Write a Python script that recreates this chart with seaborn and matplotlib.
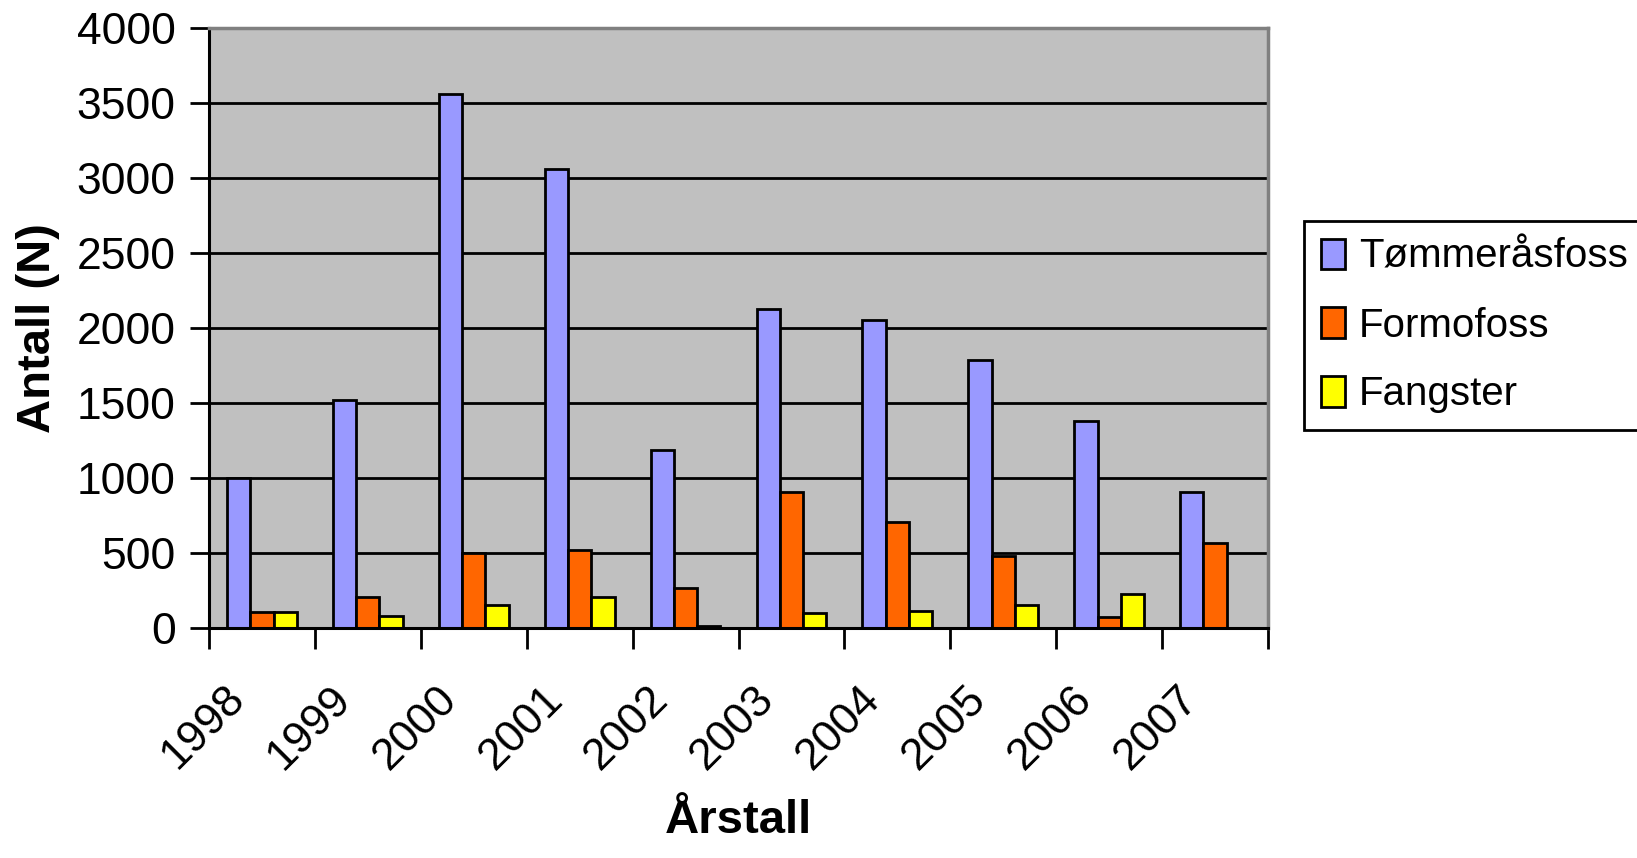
import numpy as np
import pandas as pd
import seaborn as sns
import matplotlib.pyplot as plt
import matplotlib.transforms as mtransforms

years = ["1998", "1999", "2000", "2001", "2002", "2003", "2004", "2005", "2006", "2007"]
tommeraasfoss = [1000, 1520, 3560, 3060, 1190, 2130, 2055, 1785, 1380, 905]
formofoss = [110, 210, 500, 520, 270, 905, 710, 480, 75, 570]
fangster = [110, 80, 155, 210, 15, 100, 115, 155, 230, np.nan]

series = ["Tømmeråsfoss", "Formofoss", "Fangster"]
cols = {"Tømmeråsfoss": "#9999FF", "Formofoss": "#FF6600", "Fangster": "#FFFF00"}

df = pd.DataFrame({
    "Årstall": years * 3,
    "Antall": tommeraasfoss + formofoss + fangster,
    "Sted": [series[0]] * 10 + [series[1]] * 10 + [series[2]] * 10,
})

sns.set_theme(style="white")
plt.rcParams['font.family'] = ['Liberation Sans', 'DejaVu Sans']
plt.rcParams.update({"text.color": "black", "axes.labelcolor": "black",
                     "xtick.color": "black", "ytick.color": "black"})

fig = plt.figure(figsize=(16.37, 8.58), dpi=100)
ax = fig.add_axes([209 / 1637, 1 - 628 / 858, 1059 / 1637, 600 / 858])

sns.barplot(data=df, x="Årstall", y="Antall", hue="Sted", hue_order=series,
            palette=cols, width=0.66, saturation=1, errorbar=None,
            edgecolor="black", linewidth=2.0, ax=ax)

ax.set_facecolor("#C0C0C0")
ax.set_xlim(-0.5, 9.5)
ax.set_ylim(0, 4000)
ax.set_yticks(np.arange(0, 4001, 500))
ax.grid(axis="y", color="black", linewidth=2.0)
ax.set_axisbelow(True)

for side in ["top", "right"]:
    ax.spines[side].set_color("#808080")
    ax.spines[side].set_linewidth(2.5)
for side in ["left", "bottom"]:
    ax.spines[side].set_color("black")
    ax.spines[side].set_linewidth(2.2)

ax.set_xticks(np.arange(-0.5, 10), minor=True)
ax.tick_params(axis="x", which="minor", bottom=True, length=15, width=2, color="black")
ax.tick_params(axis="x", which="major", bottom=True, length=0, pad=36, labelsize=32)
ax.tick_params(axis="y", left=True, length=14, width=2, color="black", labelsize=32, pad=10)

shift = mtransforms.ScaledTranslation(-9 / 100, 0, fig.dpi_scale_trans)
for lab in ax.get_xticklabels():
    lab.set_rotation(45)
    lab.set_ha("right")
    lab.set_va("top")
    lab.set_transform(lab.get_transform() + shift)

ax.set_xlabel("Årstall", fontsize=34, fontweight="bold")
ax.xaxis.set_label_coords(0.5, -0.285)
ax.set_ylabel("Antall (N)", fontsize=34, fontweight="bold")
ax.yaxis.set_label_coords(-0.141, 0.5)

ax.legend(loc="upper left", bbox_to_anchor=(1304 / 1637, 1 - 221 / 858),
          bbox_transform=fig.transFigure, borderaxespad=0, fontsize=29,
          frameon=True, fancybox=False, edgecolor="black", framealpha=1,
          handlelength=0.6, handleheight=0.8, handletextpad=0.35,
          labelspacing=0.76, borderpad=0.42, title=None)
ax.get_legend().get_frame().set_linewidth(2)

fig.savefig("out.png", dpi=100)
